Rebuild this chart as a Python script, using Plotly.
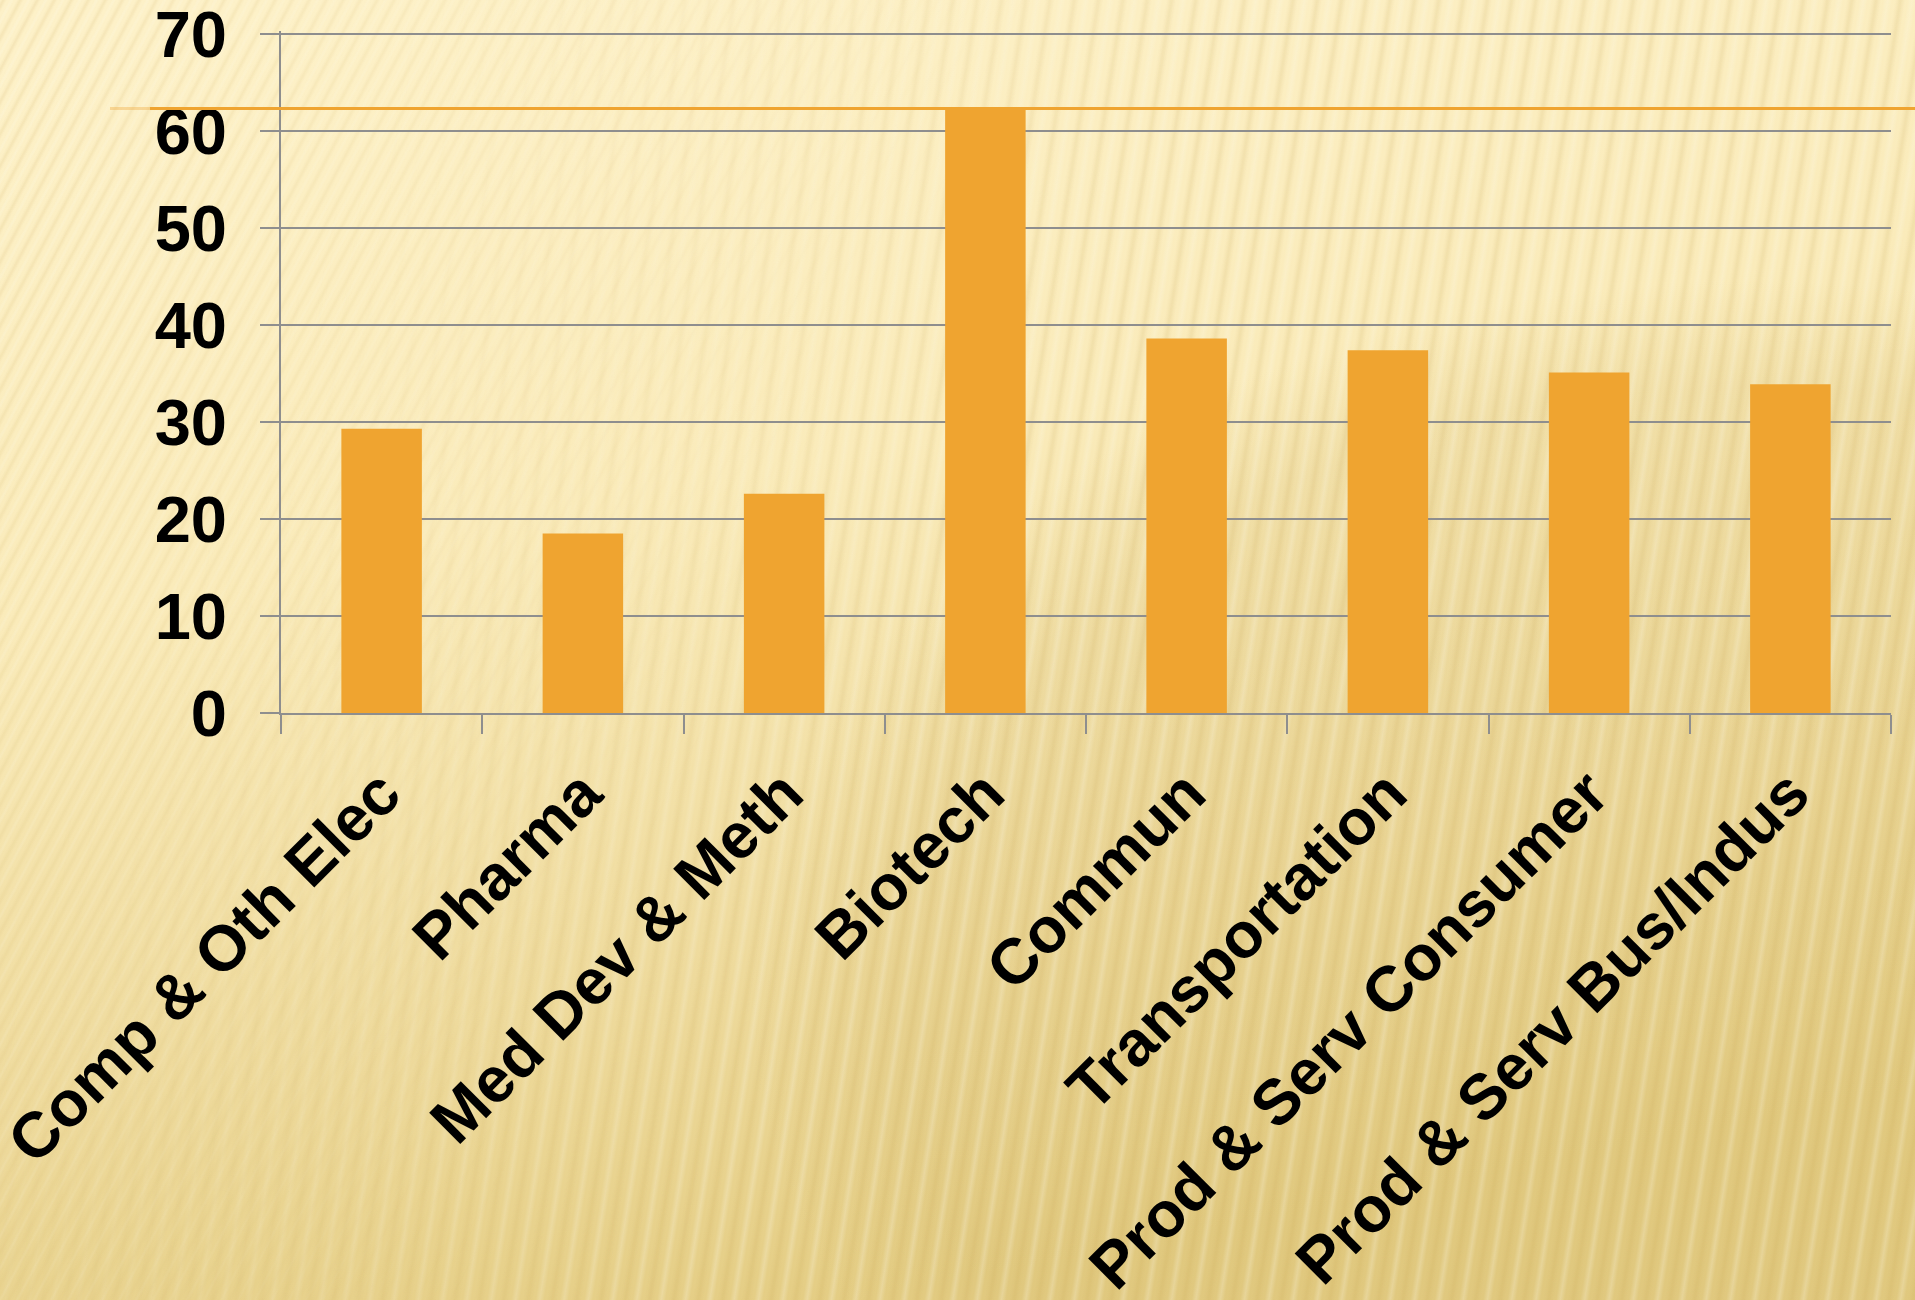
import base64
import plotly.graph_objects as go

# Sector categories and their values
categories = [
    "Comp & Oth Elec",
    "Pharma",
    "Med Dev & Meth",
    "Biotech",
    "Commun",
    "Transportation",
    "Prod & Serv Consumer",
    "Prod & Serv Bus/Indus",
]
values = [29.3, 18.5, 22.6, 62.3, 38.6, 37.4, 35.1, 33.9]
y_ticks = [0, 10, 20, 30, 40, 50, 60, 70]

# Reference line drawn at the highest sector value
peak_value = max(values)

W, H = 1915, 1300
M_L, M_R, M_T, M_B = 281, 24, 31, 587
plot_w = W - M_L - M_R
plot_h = H - M_T - M_B
Y_MAX = 70.3  # a little above the top tick so its gridline is kept

BAR = "#EFA430"
GRID = "#8E8E8E"
FONT = "Liberation Sans, Arial, sans-serif"

# Warm striped backdrop rendered as an SVG image behind the whole page
svg = f"""<svg xmlns="http://www.w3.org/2000/svg" width="{W}" height="{H}" viewBox="0 0 {W} {H}">
<defs>
<linearGradient id="g" x1="0.15" y1="0" x2="0.45" y2="1">
<stop offset="0" stop-color="#FDF1C8"/>
<stop offset="0.4" stop-color="#FAEBBA"/>
<stop offset="0.75" stop-color="#EEDA9C"/>
<stop offset="1" stop-color="#E4CD84"/>
</linearGradient>
<linearGradient id="s" x1="0" y1="0" x2="1" y2="0">
<stop offset="0" stop-color="#C8A450" stop-opacity="0"/>
<stop offset="0.5" stop-color="#C8A450" stop-opacity="0.16"/>
<stop offset="1" stop-color="#C8A450" stop-opacity="0"/>
</linearGradient>
<linearGradient id="h" x1="0" y1="0" x2="1" y2="0">
<stop offset="0" stop-color="#FFFBEA" stop-opacity="0"/>
<stop offset="0.5" stop-color="#FFFBEA" stop-opacity="0.25"/>
<stop offset="1" stop-color="#FFFBEA" stop-opacity="0"/>
</linearGradient>
<pattern id="p1" width="15" height="15" patternUnits="userSpaceOnUse" patternTransform="rotate(28)">
<rect x="0" width="6" height="15" fill="url(#s)"/>
<rect x="8" width="5" height="15" fill="url(#h)"/>
</pattern>
<pattern id="p2" width="24" height="24" patternUnits="userSpaceOnUse" patternTransform="rotate(9)">
<rect x="0" width="10" height="24" fill="url(#s)"/>
<rect x="12" width="9" height="24" fill="url(#h)"/>
</pattern>
<linearGradient id="mL" x1="0" y1="0" x2="1" y2="0.3">
<stop offset="0" stop-color="#fff" stop-opacity="1"/>
<stop offset="0.5" stop-color="#fff" stop-opacity="0"/>
</linearGradient>
<linearGradient id="mR" x1="0" y1="0" x2="1" y2="0.3">
<stop offset="0.2" stop-color="#fff" stop-opacity="0"/>
<stop offset="0.6" stop-color="#fff" stop-opacity="1"/>
</linearGradient>
<mask id="mk1"><rect width="{W}" height="{H}" fill="url(#mL)"/></mask>
<mask id="mk2"><rect width="{W}" height="{H}" fill="url(#mR)"/></mask>
<radialGradient id="arc" cx="0.5" cy="0.5" r="0.5">
<stop offset="0.85" stop-color="#C9AC5C" stop-opacity="0.14"/>
<stop offset="1" stop-color="#C9AC5C" stop-opacity="0"/>
</radialGradient>
</defs>
<rect width="{W}" height="{H}" fill="url(#g)"/>
<ellipse cx="1750" cy="1000" rx="1000" ry="720" fill="url(#arc)"/>
<rect width="{W}" height="{H}" fill="url(#p2)" mask="url(#mk2)"/>
<rect width="{W}" height="{H}" fill="url(#p1)" mask="url(#mk1)"/>
</svg>"""
bg_uri = "data:image/svg+xml;base64," + base64.b64encode(svg.encode()).decode()

fig = go.Figure()
fig.add_trace(
    go.Bar(
        x=categories,
        y=values,
        marker=dict(color=BAR, line=dict(width=0)),
        width=0.4,
        hoverinfo="x+y",
    )
)

fig.add_layout_image(
    dict(
        source=bg_uri,
        xref="paper",
        yref="paper",
        x=-M_L / plot_w,
        y=1 + M_T / plot_h,
        sizex=W / plot_w,
        sizey=H / plot_h,
        xanchor="left",
        yanchor="top",
        sizing="stretch",
        layer="below",
    )
)

# Horizontal marker at the peak value, running past both plot edges
fig.add_shape(
    type="line",
    xref="paper",
    yref="y",
    x0=(150 - M_L) / plot_w,
    x1=(W - M_L) / plot_w,
    y0=peak_value,
    y1=peak_value,
    line=dict(color="#EFA430", width=3),
    layer="above",
)
fig.add_shape(
    type="line",
    xref="paper",
    yref="y",
    x0=(110 - M_L) / plot_w,
    x1=(150 - M_L) / plot_w,
    y0=peak_value,
    y1=peak_value,
    line=dict(color="rgba(239,164,48,0.35)", width=3),
    layer="above",
)

fig.update_layout(
    width=W,
    height=H,
    margin=dict(l=M_L, r=M_R, t=M_T, b=M_B, pad=0, autoexpand=False),
    paper_bgcolor="rgba(0,0,0,0)",
    plot_bgcolor="rgba(0,0,0,0)",
    showlegend=False,
    bargap=0.6,
    font=dict(family=FONT, color="#000000"),
)

fig.update_xaxes(
    type="category",
    automargin=False,
    tickson="boundaries",
    ticks="outside",
    ticklen=19,
    tickwidth=2,
    tickcolor=GRID,
    showgrid=False,
    showline=True,
    linecolor=GRID,
    linewidth=2,
    tickangle=-45,
    ticklabelstandoff=15,
    ticklabeloverflow="allow",
    tickfont=dict(family=FONT, size=64, color="#000000", weight="bold"),
)

fig.update_yaxes(
    range=[0, Y_MAX],
    automargin=False,
    tickvals=y_ticks,
    ticktext=[str(v) for v in y_ticks],
    ticks="outside",
    ticklen=19,
    tickwidth=2,
    tickcolor=GRID,
    showgrid=True,
    gridcolor=GRID,
    gridwidth=2,
    showline=True,
    linecolor=GRID,
    linewidth=2,
    zeroline=False,
    ticklabelstandoff=20,
    ticklabeloverflow="allow",
    tickfont=dict(family=FONT, size=65, color="#000000", weight="bold"),
)

fig.write_html("out.html")
